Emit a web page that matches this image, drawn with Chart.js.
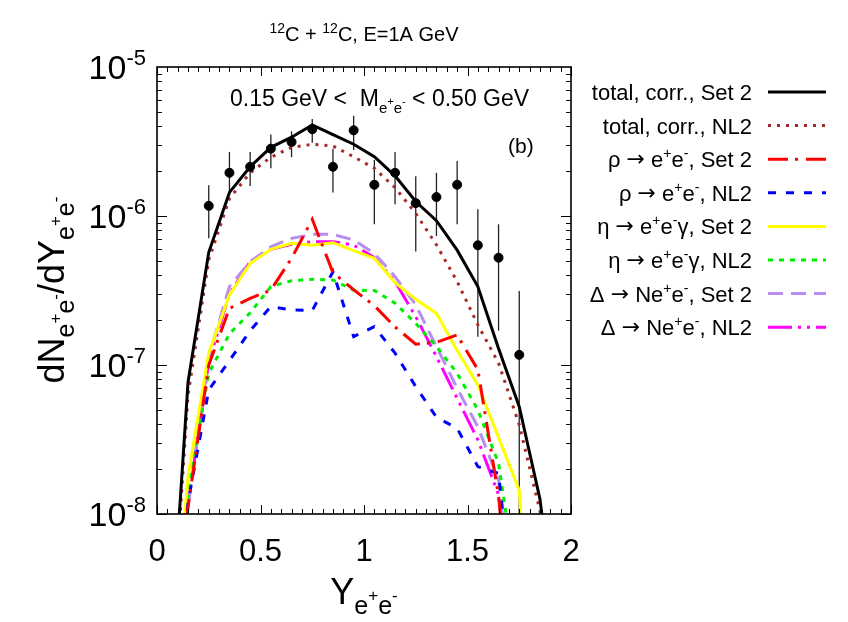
<!DOCTYPE html>
<html>
<head>
<meta charset="utf-8">
<script src="https://cdn.jsdelivr.net/npm/chart.js@4.4.1/dist/chart.umd.min.js"></script>
<style>
  body { margin: 0; background: #fff; }
  canvas { display: block; }
</style>
</head>
<body>
<canvas id="chart" width="848" height="622" style="width:848px;height:622px"></canvas>
<script>
// rapidity grid of the model curves
const yGrid = [0.05, 0.15, 0.25, 0.35, 0.45, 0.55, 0.65, 0.75, 0.85, 0.95,
               1.05, 1.15, 1.25, 1.35, 1.45, 1.55, 1.65, 1.75, 1.85, 1.95];

const totalSet2 = [6e-10, 7.7e-8, 5.7e-7, 1.44e-6, 2.14e-6, 2.89e-6, 3.38e-6, 4.08e-6, 3.52e-6, 3.03e-6,
                   2.50e-6, 1.86e-6, 1.25e-6, 9.3e-7, 5.9e-7, 3.36e-7, 1.29e-7, 5.25e-8, 1.26e-8, 1e-9];
const totalNL2  = [5e-10, 6.3e-8, 5.07e-7, 1.31e-6, 1.95e-6, 2.48e-6, 2.89e-6, 3.03e-6, 2.95e-6, 2.5e-6,
                   2.09e-6, 1.55e-6, 1.04e-6, 6.4e-7, 3.63e-7, 1.86e-7, 1.03e-7, 3.97e-8, 1.05e-8, 8e-10];
const rhoSet2   = [5e-10, 1.12e-8, 1.0e-7, 2.4e-7, 2.8e-7, 3.18e-7, 5.2e-7, 9.5e-7, 4.17e-7, 3.2e-7,
                   2.5e-7, 1.8e-7, 1.38e-7, 1.42e-7, 1.59e-7, 9.3e-8, 1.32e-8, 5e-10, 1e-10, 1e-10];
const rhoNL2    = [5e-10, 1.2e-8, 6.8e-8, 1.07e-7, 1.7e-7, 2.47e-7, 2.34e-7, 2.32e-7, 4.23e-7, 1.55e-7,
                   1.81e-7, 1.2e-7, 7.16e-8, 4.46e-8, 3.76e-8, 2.08e-8, 1.87e-8, 1e-9, 1e-10, 1e-10];
const etaSet2   = [5e-10, 1.78e-8, 1.2e-7, 2.95e-7, 4.8e-7, 5.97e-7, 6.56e-7, 6.36e-7, 6.62e-7, 5.85e-7,
                   5.2e-7, 3.57e-7, 2.76e-7, 2.22e-7, 1.25e-7, 7.34e-8, 3.27e-8, 1.44e-8, 1e-10, 1e-10];
const etaNL2    = [5e-10, 1.38e-8, 8.8e-8, 1.62e-7, 2.24e-7, 3.36e-7, 3.68e-7, 3.76e-7, 3.72e-7, 3.18e-7,
                   3.16e-7, 2.6e-7, 1.9e-7, 1.33e-7, 8.8e-8, 5.0e-8, 2.19e-8, 2.5e-9, 1e-10, 1e-10];
const deltaSet2 = [5e-10, 1.12e-8, 1.14e-7, 3.36e-7, 4.94e-7, 6.22e-7, 7.08e-7, 7.53e-7, 7.53e-7, 6.9e-7,
                   5.62e-7, 3.92e-7, 2.53e-7, 1.33e-7, 6.97e-8, 3.85e-8, 1.69e-8, 1e-9, 1e-10, 1e-10];
const deltaNL2  = [5e-10, 1.17e-8, 1.05e-7, 3.0e-7, 4.94e-7, 5.97e-7, 6.45e-7, 6.73e-7, 6.73e-7, 6.38e-7,
                   5.25e-7, 3.63e-7, 2.11e-7, 1.14e-7, 5.97e-8, 3.15e-8, 1.35e-8, 1e-9, 1e-10, 1e-10];

// measured points with error bars
const expY   = [0.25, 0.35, 0.45, 0.55, 0.65, 0.75, 0.85, 0.95, 1.05, 1.15, 1.25, 1.35, 1.45, 1.55, 1.65, 1.75];
const expVal = [1.17e-6, 1.95e-6, 2.14e-6, 2.83e-6, 3.14e-6, 3.82e-6, 2.14e-6, 3.76e-6,
                1.62e-6, 1.95e-6, 1.22e-6, 1.34e-6, 1.62e-6, 6.36e-7, 5.25e-7, 1.17e-7];
const expHi  = [1.61e-6, 2.69e-6, 2.69e-6, 3.52e-6, 3.70e-6, 4.48e-6, 2.83e-6, 4.71e-6,
                2.38e-6, 2.69e-6, 1.85e-6, 1.95e-6, 2.34e-6, 1.11e-6, 8.8e-7, 3.14e-7];
const expLo  = [7.08e-7, 1.43e-6, 1.59e-6, 2.09e-6, 2.48e-6, 3.1e-6, 1.44e-6, 2.77e-6,
                8.8e-7, 1.2e-6, 5.77e-7, 7.35e-7, 8.8e-7, 1.55e-7, 1.7e-7, 1e-9];

const xTicks = [0, 0.5, 1, 1.5, 2];
const xTickLabels = ['0', '0.5', '1', '1.5', '2'];
const yTicks = [1e-8, 1e-7, 1e-6, 1e-5];
const yTickExp = ['-8', '-7', '-6', '-5'];

const FONT = '"Liberation Sans", Arial, sans-serif';
const ARROW_FONT = '"DejaVu Sans", sans-serif';

// label pieces: 0 = normal, 1 = superscript, 2 = arrow
const series = [
    { label: [['total, corr., Set 2', 0]], data: totalSet2, color: '#000000', dash: [], width: 3 },
    { label: [['total, corr., NL2', 0]], data: totalNL2, color: '#a52a2a', dash: [3, 6], width: 3 },
    { label: [['\u03c1 ', 0], ['\u2192', 2], [' e', 0], ['+', 1], ['e', 0], ['-', 1], [', Set 2', 0]], data: rhoSet2, color: '#ff0000', dash: [20, 7, 3, 8], width: 3 },
    { label: [['\u03c1 ', 0], ['\u2192', 2], [' e', 0], ['+', 1], ['e', 0], ['-', 1], [', NL2', 0]], data: rhoNL2, color: '#0000ff', dash: [8, 10], width: 3 },
    { label: [['\u03b7 ', 0], ['\u2192', 2], [' e', 0], ['+', 1], ['e', 0], ['-', 1], ['\u03b3, Set 2', 0]], data: etaSet2, color: '#ffff00', dash: [], width: 3 },
    { label: [['\u03b7 ', 0], ['\u2192', 2], [' e', 0], ['+', 1], ['e', 0], ['-', 1], ['\u03b3, NL2', 0]], data: etaNL2, color: '#00ee00', dash: [5, 6], width: 3 },
    { label: [['\u0394 ', 0], ['\u2192', 2], [' Ne', 0], ['+', 1], ['e', 0], ['-', 1], [', Set 2', 0]], data: deltaSet2, color: '#b98cf2', dash: [15, 8], width: 3 },
    { label: [['\u0394 ', 0], ['\u2192', 2], [' Ne', 0], ['+', 1], ['e', 0], ['-', 1], [', NL2', 0]], data: deltaNL2, color: '#ff00ff', dash: [24, 6, 3, 6, 3, 6], width: 3 }
];

// draws text pieces [text, size, dy, family] one after the other
function rich(ctx, parts, x, y, align) {
    const font = p => p[1] + 'px ' + (p[3] || FONT);
    let w = 0;
    parts.forEach(p => { ctx.font = font(p); w += ctx.measureText(p[0]).width; });
    let cx = align === 'right' ? x - w : (align === 'center' ? x - w / 2 : x);
    ctx.textAlign = 'left';
    ctx.textBaseline = 'alphabetic';
    parts.forEach(p => {
        ctx.font = font(p);
        ctx.fillText(p[0], cx, y + (p[2] || 0));
        cx += ctx.measureText(p[0]).width;
    });
}

const decorations = {
    id: 'decorations',
    beforeDatasetsDraw(chart) {
        const { ctx, chartArea: a, scales: { x, y } } = chart;
        ctx.save();
        ctx.beginPath();
        ctx.rect(a.left, a.top, a.right - a.left, a.bottom - a.top);
        ctx.clip();
        ctx.strokeStyle = '#222';
        ctx.lineWidth = 1.3;
        expY.forEach((v, i) => {
            const px = x.getPixelForValue(v);
            ctx.beginPath();
            ctx.moveTo(px, y.getPixelForValue(expHi[i]));
            ctx.lineTo(px, y.getPixelForValue(expLo[i]));
            ctx.stroke();
        });
        ctx.restore();
    },
    afterDraw(chart) {
        const { ctx, chartArea: a, scales: { x, y } } = chart;
        ctx.save();
        ctx.fillStyle = '#000';
        ctx.strokeStyle = '#000';

        // ticks, both sides
        ctx.lineWidth = 1;
        ctx.beginPath();
        for (let k = 0; k <= 40; k++) {
            const v = k * 0.05;
            const px = Math.round(x.getPixelForValue(v)) + 0.5;
            const len = k % 10 === 0 ? 9 : 5;
            ctx.moveTo(px, a.bottom); ctx.lineTo(px, a.bottom - len);
            ctx.moveTo(px, a.top); ctx.lineTo(px, a.top + len);
        }
        for (let d = -8; d < -5; d++) {
            for (let m = 1; m <= 9; m++) {
                const py = Math.round(y.getPixelForValue(m * Math.pow(10, d))) + 0.5;
                const len = m === 1 ? 10 : 5;
                ctx.moveTo(a.left, py); ctx.lineTo(a.left + len, py);
                ctx.moveTo(a.right, py); ctx.lineTo(a.right - len, py);
            }
        }
        ctx.stroke();

        // frame
        ctx.lineWidth = 1.6;
        ctx.strokeRect(a.left, a.top, a.right - a.left, a.bottom - a.top);

        // tick labels
        xTicks.forEach((v, i) => {
            rich(ctx, [[xTickLabels[i], 31]], x.getPixelForValue(v), a.bottom + 47, 'center');
        });
        yTicks.forEach((v, i) => {
            const py = y.getPixelForValue(v);
            rich(ctx, [['10', 34], [yTickExp[i], 22, -14]], 146, py + 12, 'right');
        });

        // axis titles
        rich(ctx, [['Y', 36], ['e', 25, 10], ['+', 17, -3], ['e', 25, 10], ['-', 17, -3]], 364, 604, 'center');
        ctx.save();
        ctx.translate(64, 290);
        ctx.rotate(-Math.PI / 2);
        rich(ctx, [['dN', 36], ['e', 25, 10], ['+', 17, -3], ['e', 25, 10], ['-', 17, -3],
                   ['/dY', 36], ['e', 25, 10], ['+', 17, -3], ['e', 25, 10], ['-', 17, -3]], 0, 0, 'center');
        ctx.restore();

        // title and labels in the frame
        rich(ctx, [['12', 14, -8], ['C + ', 20], ['12', 14, -8], ['C, E=1A GeV', 20]], 364, 41, 'center');
        rich(ctx, [['0.15 GeV <  M', 23], ['e', 15, 7], ['+', 11, -1], ['e', 15, 7], ['-', 11, -1], [' < 0.50 GeV', 23]], 230, 106, 'left');
        rich(ctx, [['(b)', 21]], 508, 153, 'left');

        // legend
        series.forEach((s, i) => {
            const ly = 92 + i * 33.6;
            const parts = s.label.map(p => p[1] === 1 ? [p[0], 14, -9]
                                         : p[1] === 2 ? [p[0], 22, -1, ARROW_FONT] : [p[0], 22]);
            ctx.fillStyle = '#000';
            rich(ctx, parts, 752, ly + 8, 'right');
            ctx.strokeStyle = s.color;
            ctx.lineWidth = s.width;
            ctx.setLineDash(s.dash);
            ctx.beginPath();
            ctx.moveTo(768, ly);
            ctx.lineTo(826, ly);
            ctx.stroke();
            ctx.setLineDash([]);
        });
        ctx.restore();
    }
};

const datasets = [{
    type: 'scatter',
    data: expY.map((v, i) => ({ x: v, y: expVal[i] })),
    backgroundColor: '#000',
    borderColor: '#000',
    pointRadius: 4.5,
    showLine: false
}];
series.forEach(s => {
    datasets.push({
        type: 'line',
        data: yGrid.map((v, i) => ({ x: v, y: s.data[i] })),
        borderColor: s.color,
        borderWidth: s.width,
        borderDash: s.dash,
        borderCapStyle: 'butt',
        pointRadius: 0,
        fill: false,
        tension: 0
    });
});

new Chart(document.getElementById('chart'), {
    data: { datasets },
    options: {
        responsive: false,
        animation: false,
        layout: { padding: { left: 157, right: 277, top: 67, bottom: 108 } },
        scales: {
            x: { type: 'linear', min: 0, max: 2, display: false },
            y: { type: 'logarithmic', min: 1e-8, max: 1e-5, display: false }
        },
        plugins: {
            legend: { display: false },
            tooltip: { enabled: false }
        }
    },
    plugins: [decorations]
});
</script>
</body>
</html>
